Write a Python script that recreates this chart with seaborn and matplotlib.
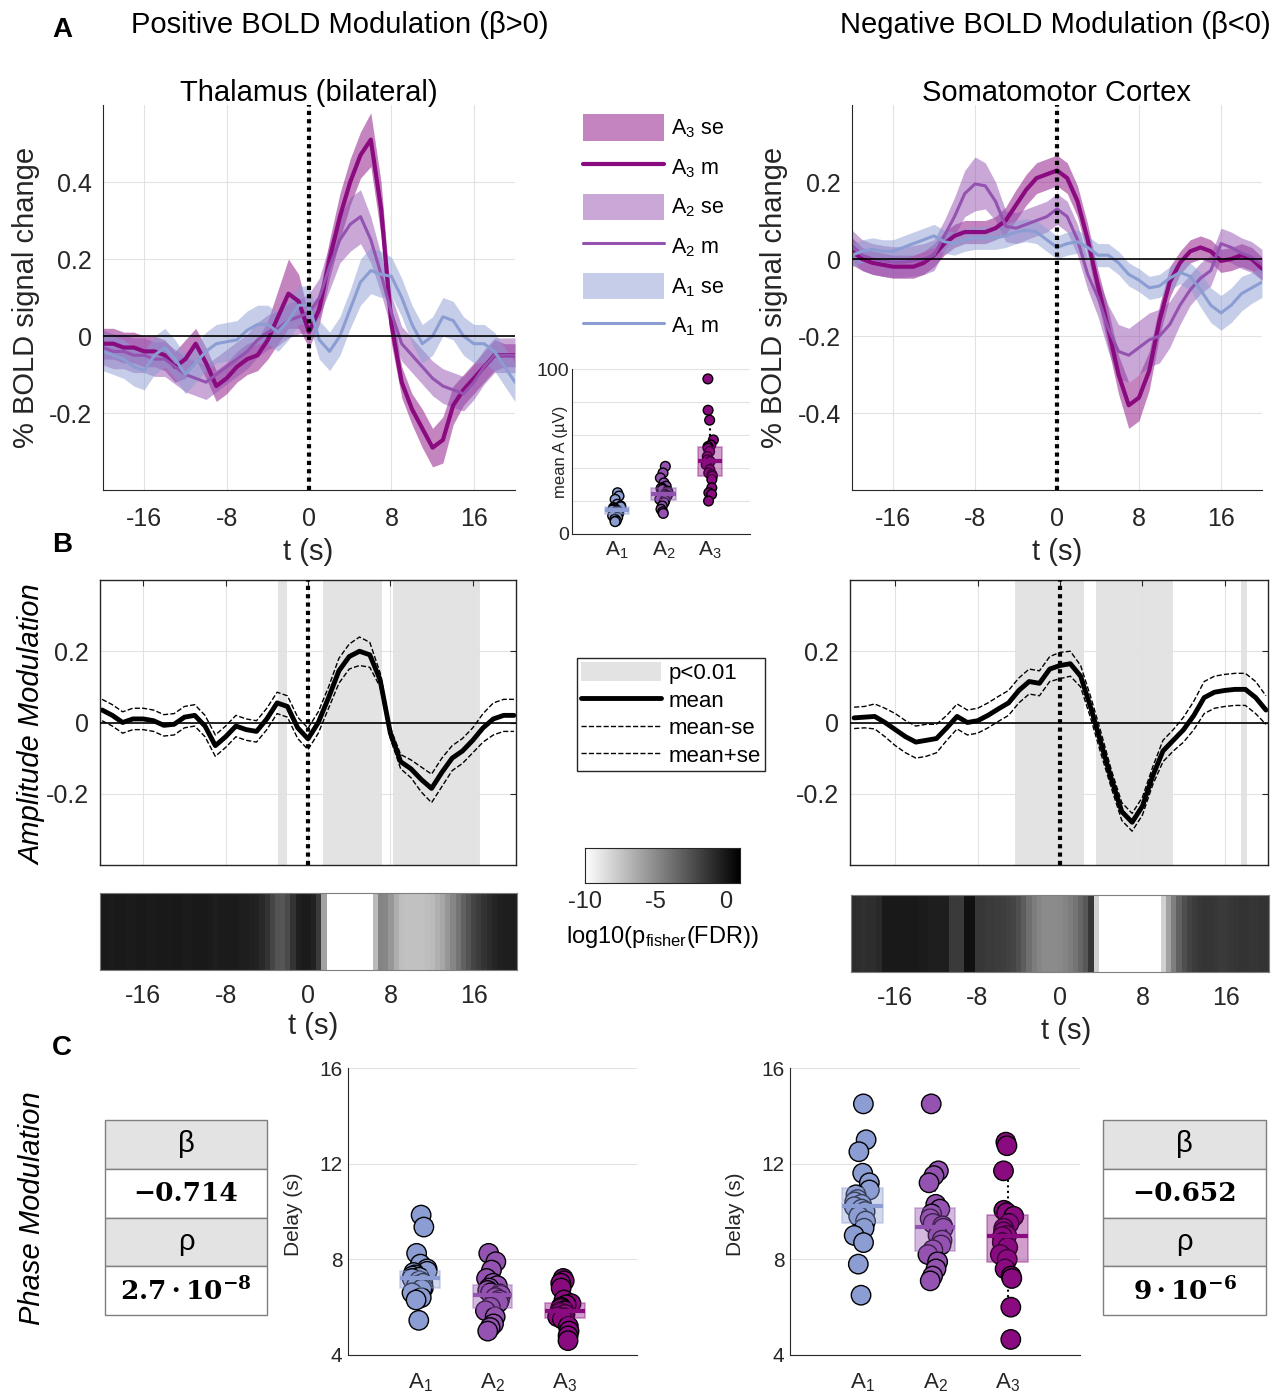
import numpy as np
import pandas as pd
import matplotlib
matplotlib.use("Agg")
import matplotlib.pyplot as plt
import seaborn as sns
from matplotlib.patches import Patch
from matplotlib.lines import Line2D

# ===== data =====
t = np.arange(-20, 21)  # time to event (s)
t_fine = np.arange(-20, 20.5, 0.5)  # time grid of the p-value strips (s)

# A: % BOLD signal change per amplitude tercile - thalamus (bilateral)
thal_a3_m = [-0.02, -0.02, -0.03, -0.03, -0.04, -0.04, -0.05, -0.08, -0.06, -0.02,
             -0.07, -0.13, -0.11, -0.08, -0.06, -0.05, -0.01, 0.05, 0.11, 0.09,
             0.01, 0.07, 0.20, 0.31, 0.40, 0.47, 0.51, 0.33, 0.03, -0.12,
             -0.19, -0.24, -0.29, -0.27, -0.18, -0.14, -0.11, -0.08, -0.05, -0.05, -0.05]
thal_a3_se = [0.04, 0.04, 0.04, 0.04, 0.04, 0.04, 0.04, 0.04, 0.05, 0.04,
              0.04, 0.04, 0.04, 0.04, 0.04, 0.04, 0.05, 0.07, 0.09, 0.07,
              0.04, 0.04, 0.05, 0.06, 0.06, 0.06, 0.07, 0.07, 0.05, 0.04,
              0.04, 0.05, 0.05, 0.06, 0.05, 0.04, 0.04, 0.04, 0.04, 0.03, 0.03]
thal_a2_m = [-0.03, -0.04, -0.04, -0.05, -0.05, -0.06, -0.06, -0.08, -0.10, -0.11,
             -0.12, -0.10, -0.08, -0.06, -0.04, -0.01, 0.01, 0.02, 0.04, 0.05,
             0.06, 0.10, 0.18, 0.25, 0.29, 0.31, 0.25, 0.16, 0.06, -0.02,
             -0.05, -0.08, -0.11, -0.13, -0.14, -0.15, -0.12, -0.08, -0.05, -0.05, -0.05]
thal_a2_se = [0.045, 0.045, 0.045, 0.045, 0.045, 0.045, 0.045, 0.045, 0.045, 0.045,
              0.045, 0.045, 0.045, 0.045, 0.045, 0.045, 0.045, 0.045, 0.045, 0.045,
              0.05, 0.05, 0.06, 0.06, 0.07, 0.07, 0.06, 0.05, 0.045, 0.045,
              0.045, 0.045, 0.045, 0.045, 0.045, 0.045, 0.045, 0.045, 0.045, 0.045, 0.045]
thal_a1_m = [-0.04, -0.05, -0.06, -0.08, -0.09, -0.05, -0.03, -0.06, -0.10, -0.07,
             -0.04, -0.02, -0.015, -0.01, 0.015, 0.03, 0.03, 0.01, 0.04, 0.08,
             0.08, -0.01, -0.04, 0.00, 0.07, 0.14, 0.17, 0.16, 0.155, 0.10,
             0.03, -0.02, 0.00, 0.05, 0.04, 0.00, -0.02, -0.02, -0.04, -0.08, -0.12]
thal_a1_se = [0.05, 0.05, 0.05, 0.05, 0.05, 0.05, 0.05, 0.05, 0.05, 0.05,
              0.05, 0.05, 0.05, 0.05, 0.05, 0.05, 0.05, 0.05, 0.05, 0.05,
              0.05, 0.05, 0.05, 0.05, 0.05, 0.06, 0.06, 0.06, 0.05, 0.05,
              0.05, 0.05, 0.05, 0.05, 0.05, 0.05, 0.05, 0.05, 0.05, 0.05, 0.05]

# A: somatomotor cortex
smc_a3_m = [0.02, 0.00, -0.01, -0.015, -0.02, -0.02, -0.02, -0.01, 0.01, 0.04,
            0.06, 0.07, 0.07, 0.07, 0.08, 0.10, 0.14, 0.18, 0.21, 0.22,
            0.23, 0.21, 0.15, 0.05, -0.07, -0.18, -0.30, -0.38, -0.36, -0.29,
            -0.16, -0.06, -0.01, 0.02, 0.03, 0.02, -0.005, 0.00, 0.01, 0.00, -0.025]
smc_a3_se = [0.035, 0.03, 0.03, 0.03, 0.03, 0.03, 0.03, 0.03, 0.03, 0.03,
             0.03, 0.03, 0.03, 0.03, 0.03, 0.035, 0.04, 0.04, 0.04, 0.04,
             0.04, 0.04, 0.04, 0.04, 0.04, 0.05, 0.05, 0.06, 0.06, 0.05,
             0.04, 0.04, 0.03, 0.03, 0.03, 0.03, 0.03, 0.03, 0.03, 0.03, 0.03]
smc_a2_m = [0.035, 0.01, 0.0, -0.005, -0.008, -0.008, -0.005, 0.0, 0.01, 0.06,
            0.11, 0.17, 0.195, 0.19, 0.15, 0.085, 0.08, 0.09, 0.10, 0.11,
            0.13, 0.11, 0.05, -0.04, -0.10, -0.18, -0.24, -0.25, -0.23, -0.21,
            -0.20, -0.17, -0.12, -0.08, -0.05, -0.03, 0.04, 0.03, 0.015, 0.005, -0.015]
smc_a2_se = [0.04, 0.04, 0.04, 0.04, 0.04, 0.04, 0.04, 0.04, 0.04, 0.04,
             0.05, 0.06, 0.07, 0.06, 0.05, 0.04, 0.04, 0.04, 0.04, 0.04,
             0.04, 0.04, 0.04, 0.04, 0.05, 0.06, 0.07, 0.07, 0.07, 0.07,
             0.07, 0.06, 0.05, 0.04, 0.04, 0.04, 0.04, 0.04, 0.04, 0.04, 0.04]
smc_a1_m = [0.01, 0.02, 0.025, 0.02, 0.02, 0.03, 0.04, 0.05, 0.06, 0.045,
            0.04, 0.05, 0.055, 0.055, 0.055, 0.06, 0.07, 0.075, 0.07, 0.05,
            0.03, 0.04, 0.045, 0.03, 0.01, 0.01, -0.01, -0.04, -0.055, -0.075,
            -0.07, -0.05, -0.035, -0.045, -0.08, -0.12, -0.14, -0.12, -0.09, -0.075, -0.06]
smc_a1_se = [0.03, 0.03, 0.03, 0.03, 0.03, 0.03, 0.03, 0.03, 0.03, 0.03,
             0.03, 0.03, 0.03, 0.03, 0.03, 0.03, 0.03, 0.03, 0.03, 0.03,
             0.03, 0.03, 0.03, 0.03, 0.03, 0.03, 0.03, 0.03, 0.03, 0.03,
             0.03, 0.03, 0.03, 0.035, 0.045, 0.045, 0.045, 0.045, 0.045, 0.04, 0.04]

# inset: mean amplitude per tercile (uV)
amp_a1 = [25, 23, 21, 18, 17, 16.5, 16, 15.5, 15, 14.5, 14.5, 14, 13.5, 13, 12.5, 12, 11, 10, 9, 8, 7.5]
amp_a2 = [41, 37, 34, 31, 29, 28, 27.5, 27, 26, 25, 24, 23.5, 23, 22, 21, 20.5, 19, 17, 15, 13.5, 12.5]
amp_a3 = [94, 75, 69, 57, 54, 53, 52, 50, 47, 45, 44, 42, 39, 37, 36, 35, 33, 28, 25, 24, 20]

# B: amplitude modulation
thal_amp_m = [0.035, 0.02, 0.0, 0.01, 0.01, 0.005, -0.008, -0.005, 0.015, 0.02,
              -0.01, -0.065, -0.04, -0.01, -0.02, -0.025, 0.01, 0.055, 0.045, -0.015,
              -0.046, 0.0, 0.07, 0.145, 0.185, 0.20, 0.19, 0.12, -0.03, -0.11,
              -0.13, -0.16, -0.185, -0.14, -0.10, -0.08, -0.05, -0.015, 0.01, 0.02, 0.02]
thal_amp_se = [0.03, 0.03, 0.03, 0.03, 0.03, 0.03, 0.03, 0.03, 0.03, 0.03,
               0.03, 0.03, 0.03, 0.03, 0.03, 0.03, 0.03, 0.03, 0.03, 0.03,
               0.03, 0.03, 0.03, 0.035, 0.035, 0.04, 0.035, 0.02, 0.015, 0.02,
               0.025, 0.035, 0.04, 0.04, 0.035, 0.035, 0.035, 0.04, 0.045, 0.045, 0.045]
smc_amp_m = [0.013, 0.015, 0.017, 0.0, -0.02, -0.04, -0.055, -0.05, -0.045, -0.015,
             0.017, 0.0, 0.005, 0.02, 0.038, 0.055, 0.09, 0.115, 0.11, 0.15,
             0.16, 0.165, 0.13, 0.04, -0.06, -0.16, -0.25, -0.28, -0.235, -0.15,
             -0.08, -0.05, -0.02, 0.02, 0.07, 0.085, 0.09, 0.093, 0.093, 0.07, 0.035]
smc_amp_se = [0.03, 0.03, 0.035, 0.04, 0.045, 0.045, 0.045, 0.045, 0.04, 0.035,
              0.035, 0.035, 0.035, 0.035, 0.035, 0.035, 0.035, 0.035, 0.035, 0.035,
              0.037, 0.035, 0.03, 0.03, 0.03, 0.025, 0.025, 0.025, 0.025, 0.025,
              0.03, 0.03, 0.035, 0.04, 0.045, 0.045, 0.045, 0.045, 0.045, 0.045, 0.04]
thal_sig = [(-2.9, -2.0), (1.5, 7.2), (8.3, 16.7)]   # p<0.01 windows (s)
smc_sig = [(-4.4, 2.3), (3.5, 11.0), (17.6, 18.2)]

# log10(p_fisher(FDR)) strips, 0.5 s steps
thal_logp = [-0.1, -0.15, -0.2, -0.1, -0.1, -0.2, -0.2, -0.1, -0.1, -0.2,
             -0.2, -0.1, -0.1, -0.15, -0.1, -0.1, -0.2, -0.2, -0.1, -0.1,
             -0.1, -0.2, -0.3, -0.2, -0.2, -0.2, -0.2, -0.3, -0.3, -0.4,
             -0.5, -0.8, -1.2, -2.0, -2.6, -2.7, -2.2, -1.2, -0.4, -0.2,
             -0.2, -0.5, -1.5, -6.0, -11, -11, -11, -11, -11, -11,
             -11, -11, -10.5, -7.0, -4.7, -4.8, -5.5, -6.5, -7.2, -7.3,
             -7.3, -7.3, -7.3, -7.2, -7.0, -6.6, -6.2, -5.5, -4.8, -4.0,
             -3.2, -2.6, -2.0, -1.6, -1.2, -0.9, -0.6, -0.4, -0.3, -0.3,
             -0.3]
smc_logp = [-0.9, -1.0, -1.1, -1.0, -1.0, -0.8, -0.1, -0.1, -0.1, -0.1,
            -0.1, -0.1, -0.1, -0.2, -0.2, -0.3, -0.3, -0.3, -0.3, -1.5,
            -1.5, -1.5, 0.3, 0.3, -1.4, -1.4, -1.5, -1.5, -1.6, -1.7,
            -1.8, -2.0, -2.4, -3.0, -3.8, -4.4, -4.8, -5.0, -5.0, -5.0,
            -4.9, -4.7, -4.4, -4.0, -3.4, -2.8, -1.4, -8.0, -11, -11,
            -11, -11, -11, -11, -11, -11, -11, -11, -11, -10.0,
            -8.0, -6.0, -4.5, -3.2, -2.4, -1.9, -1.6, -1.4, -1.3, -1.3,
            -1.4, -1.5, -1.5, -1.4, -1.3, -1.2, -1.2, -1.3, -1.3, -1.2,
            -1.2]

# C: phase modulation, delay (s)
thal_d1 = [9.85, 9.35, 8.25, 7.8, 7.6, 7.5, 7.45, 7.35, 7.3, 7.25, 7.2, 7.1, 7.0, 6.9, 6.8, 6.75, 6.6, 6.4, 6.3, 5.45]
thal_d2 = [8.25, 7.9, 7.55, 7.2, 7.0, 6.9, 6.8, 6.7, 6.6, 6.55, 6.5, 6.4, 6.3, 6.2, 6.0, 5.85, 5.6, 5.3, 5.15, 5.0]
thal_d3 = [7.2, 7.1, 7.0, 6.8, 6.3, 6.15, 6.1, 6.0, 5.95, 5.85, 5.8, 5.75, 5.7, 5.6, 5.55, 5.5, 5.2, 5.0, 4.8, 4.6]
smc_d1 = [14.5, 13.0, 12.5, 11.6, 11.2, 10.9, 10.7, 10.5, 10.4, 10.3, 10.2, 10.1, 10.0, 9.8, 9.6, 9.3, 9.0, 8.7, 7.8, 6.5]
smc_d2 = [14.5, 11.7, 11.5, 11.2, 10.3, 10.1, 9.9, 9.7, 9.5, 9.4, 9.3, 9.0, 8.8, 8.6, 8.4, 8.2, 7.9, 7.6, 7.3, 7.1]
smc_d3 = [12.9, 12.75, 11.7, 10.05, 9.95, 9.8, 9.5, 9.3, 9.15, 9.0, 8.95, 8.7, 8.5, 8.2, 8.0, 7.6, 7.3, 7.2, 6.0, 4.65]
thal_beta, thal_p = "−0.714", r"$\mathbf{2.7\cdot10^{-8}}$"
smc_beta, smc_p = "−0.652", r"$\mathbf{9\cdot10^{-6}}$"

groups = ["A1", "A2", "A3"]
group_labels = [r"$\mathregular{A_1}$", r"$\mathregular{A_2}$", r"$\mathregular{A_3}$"]
c1, c2, c3 = "#8c9dd3", "#9452b1", "#8a0a80"
pal = {"A1": c1, "A2": c2, "A3": c3}

# ===== style =====
sns.set_style("whitegrid", {"grid.color": "#e2e2e2", "axes.edgecolor": "#262626",
                            "xtick.direction": "in", "ytick.direction": "in"})
plt.rcParams["font.family"] = ["Liberation Sans", "DejaVu Sans"]
plt.rcParams["mathtext.fontset"] = "custom"
plt.rcParams["mathtext.rm"] = "Liberation Sans"
plt.rcParams["mathtext.it"] = "Liberation Sans:italic"
plt.rcParams["mathtext.bf"] = "DejaVu Serif:bold"
plt.rcParams["axes.unicode_minus"] = False
plt.rcParams["text.color"] = "black"
plt.rcParams["xtick.color"] = "#262626"
plt.rcParams["ytick.color"] = "#262626"

W, H = 1275, 1399
fig = plt.figure(figsize=(W / 100, H / 100), dpi=100)


def axbox(x0, y0, x1, y1):
    return [x0 / W, 1 - y1 / H, (x1 - x0) / W, (y1 - y0) / H]


def ftext(x, y, s, **kw):
    fig.text(x / W, 1 - y / H, s, **kw)


TICK = 18
dotted = dict(color="black", lw=3, ls=(0, (1, 1)), zorder=5)


def bold_panel(ax, series, ylim, yticks, title):
    for m, se, col, lw in series:
        m, se = np.array(m), np.array(se)
        ax.fill_between(t, m - se, m + se, color=col, alpha=0.5, lw=0)
        sns.lineplot(x=t, y=m, color=col, lw=lw, ax=ax)
    ax.axhline(0, color="black", lw=1.2, zorder=4)
    ax.axvline(0, **dotted)
    ax.set_xlim(-20, 20)
    ax.set_ylim(*ylim)
    ax.set_xticks([-16, -8, 0, 8, 16])
    ax.set_xticklabels(["-16", "-8", "0", "8", "16"])
    ax.set_yticks(yticks)
    ax.set_yticklabels([f"{v:g}" for v in yticks])
    ax.tick_params(labelsize=TICK, length=4, pad=8)
    ax.tick_params(axis="x", pad=12)
    ax.set_title(title, fontsize=21, pad=3)
    ax.set_ylabel("% BOLD signal change", fontsize=21)
    ax.set_xlabel("t (s)", fontsize=21, va="top")
    sns.despine(ax=ax)


ax_a1 = fig.add_axes(axbox(103, 105, 515, 490))
bold_panel(ax_a1, [(thal_a3_m, thal_a3_se, c3, 3), (thal_a2_m, thal_a2_se, c2, 2.2),
                   (thal_a1_m, thal_a1_se, c1, 2.2)],
           (-0.4, 0.6), [-0.2, 0, 0.2, 0.4], "Thalamus (bilateral)")
ax_a1.yaxis.set_label_coords(-0.153, 0.5)
ax_a1.xaxis.set_label_coords(0.4976, -0.125)

ax_a2 = fig.add_axes(axbox(852, 105, 1262, 490))
bold_panel(ax_a2, [(smc_a3_m, smc_a3_se, c3, 3), (smc_a2_m, smc_a2_se, c2, 2.2),
                   (smc_a1_m, smc_a1_se, c1, 2.2)],
           (-0.6, 0.4), [-0.4, -0.2, 0, 0.2], "Somatomotor Cortex")
ax_a2.yaxis.set_label_coords(-0.156, 0.5)
ax_a2.xaxis.set_label_coords(0.5, -0.125)

# legend of panel A
handles = [Patch(facecolor=c3, alpha=0.5, lw=0), Line2D([], [], color=c3, lw=3),
           Patch(facecolor=c2, alpha=0.5, lw=0), Line2D([], [], color=c2, lw=2.2),
           Patch(facecolor=c1, alpha=0.5, lw=0), Line2D([], [], color=c1, lw=2.2)]
labels = [group_labels[2] + " se", group_labels[2] + " m", group_labels[1] + " se",
          group_labels[1] + " m", group_labels[0] + " se", group_labels[0] + " m"]
fig.legend(handles, labels, loc="upper left", bbox_to_anchor=(564 / W, 1 - 95 / H),
           frameon=False, fontsize=15.5, handlelength=3.75, handleheight=1.5,
           labelspacing=0.62, handletextpad=0.3)


def box_strip(ax, values, size, jitter, width):
    df = pd.DataFrame({"group": np.repeat(groups, [len(v) for v in values]),
                       "val": np.concatenate(values)})
    np.random.seed(3)
    sns.stripplot(data=df, x="group", y="val", hue="group", palette=pal, order=groups,
                  hue_order=groups, size=size, edgecolor="black", linewidth=1,
                  jitter=jitter, legend=False, ax=ax, zorder=2)
    for g in groups:
        sns.boxplot(data=df[df.group == g], x="group", y="val", order=groups,
                    color=pal[g], linecolor=pal[g], saturation=1, width=width,
                    linewidth=1.2, showcaps=False, showfliers=False,
                    boxprops=dict(alpha=0.4, zorder=3),
                    medianprops=dict(linewidth=3, alpha=1, zorder=4),
                    whiskerprops=dict(linestyle=":", color="black", linewidth=1.5, zorder=1),
                    ax=ax)
    ax.set_xlabel("")
    ax.set_xticks([0, 1, 2])
    ax.set_xticklabels(group_labels)
    sns.despine(ax=ax)


# inset: mean amplitude
ax_in = fig.add_axes(axbox(572, 369, 750, 534))
box_strip(ax_in, [amp_a1, amp_a2, amp_a3], 7, 0.1, 0.52)
ax_in.set_xlim(-0.97, 2.86)
ax_in.set_ylim(0, 100)
ax_in.set_yticks([0, 20, 40, 60, 80, 100])
ax_in.set_yticklabels(["0", "", "", "", "", "100"])
ax_in.tick_params(axis="y", labelsize=14, length=0, pad=2)
ax_in.tick_params(axis="x", labelsize=15, length=0, pad=4)
ax_in.set_ylabel("mean A (µV)", fontsize=12)
ax_in.yaxis.set_label_coords(-0.025, 0.5)


def amp_panel(ax, m, se, sig, xlim):
    for a, b in sig:
        ax.axvspan(a, b, color="#e3e3e3", lw=0, zorder=0.2)
    m, se = np.array(m), np.array(se)
    sns.lineplot(x=t, y=m - se, color="black", lw=1, ls="--", ax=ax)
    sns.lineplot(x=t, y=m + se, color="black", lw=1, ls="--", ax=ax)
    sns.lineplot(x=t, y=m, color="black", lw=3.5, ax=ax)
    ax.axhline(0, color="black", lw=1.2, zorder=4)
    ax.axvline(0, **dotted)
    ax.set_xlim(*xlim)
    ax.set_ylim(-0.4, 0.4)
    ax.set_xticks([-16, -8, 0, 8, 16])
    ax.set_xticklabels([])
    ax.set_yticks([-0.2, 0, 0.2])
    ax.set_yticklabels(["-0.2", "0", "0.2"])
    ax.tick_params(labelsize=TICK, length=4, pad=8, top=True, right=True)
    for s in ax.spines.values():
        s.set_linewidth(1)


ax_b1 = fig.add_axes(axbox(100, 580, 516, 865))
amp_panel(ax_b1, thal_amp_m, thal_amp_se, thal_sig, (-20.2, 20.2))
ax_b2 = fig.add_axes(axbox(850, 580, 1268, 865))
amp_panel(ax_b2, smc_amp_m, smc_amp_se, smc_sig, (-20.4, 20.2))

fig.legend([Patch(facecolor="#e3e3e3", lw=0), Line2D([], [], color="black", lw=3.5),
            Line2D([], [], color="black", lw=1, ls="--"),
            Line2D([], [], color="black", lw=1, ls="--")],
           ["p<0.01", "mean", "mean-se", "mean+se"],
           loc="upper left", bbox_to_anchor=(577 / W, 1 - 658 / H), fontsize=16,
           frameon=True, fancybox=False, edgecolor="#262626", framealpha=1,
           handlelength=3.6, handleheight=0.9, labelspacing=0.25, handletextpad=0.3,
           borderpad=0.2, borderaxespad=0)

# p-value strips
cax = fig.add_axes(axbox(585, 848, 740, 883))


def strip(ax, logp, with_cbar, label_x, label_y):
    sns.heatmap(np.array([logp]), cmap="gray_r", vmin=-10, vmax=1, ax=ax,
                cbar=with_cbar, cbar_ax=cax if with_cbar else None,
                cbar_kws=dict(orientation="horizontal", ticks=[-10, -5, 0]),
                xticklabels=False, yticklabels=False)
    ax.grid(False)
    # cell i is centred on t_fine[i]
    ax.set_xlim((-20.2 - t_fine[0]) * 2 + 0.5, (20.2 - t_fine[0]) * 2 + 0.5)
    ticks = np.array([-16, -8, 0, 8, 16])
    ax.set_xticks((ticks - t_fine[0]) * 2 + 0.5)
    ax.set_xticklabels([str(v) for v in ticks])
    ax.tick_params(axis="x", labelsize=TICK, length=4, pad=10, bottom=True)
    for s in ax.spines.values():
        s.set_visible(True)
        s.set_color("#7f7f7f")
    ax.set_xlabel("t (s)", fontsize=21, va="top")
    ax.xaxis.set_label_coords(label_x, label_y)


ax_h1 = fig.add_axes(axbox(100, 893, 517, 970))
strip(ax_h1, thal_logp, True, 0.511, -0.55)
ax_h2 = fig.add_axes(axbox(851, 895, 1269, 972))
strip(ax_h2, smc_logp, False, 0.514, -0.59)

cax.tick_params(labelsize=17, length=3, pad=6, direction="in", bottom=True)
cax.set_xticklabels(["-10", "-5", "0"])
for s in cax.spines.values():
    s.set_visible(True)
    s.set_color("#262626")
ftext(662, 937, r"log10(p$_{\mathregular{fisher}}$(FDR))", fontsize=17, ha="center", va="center")

# C: phase modulation
ax_c1 = fig.add_axes(axbox(348, 1068, 637, 1355))
box_strip(ax_c1, [thal_d1, thal_d2, thal_d3], 14, 0.12, 0.55)
ax_c2 = fig.add_axes(axbox(790, 1068, 1080, 1355))
box_strip(ax_c2, [smc_d1, smc_d2, smc_d3], 14, 0.12, 0.56)
for ax in (ax_c1, ax_c2):
    ax.set_xlim(-1, 3)
    ax.set_ylim(4, 16)
    ax.set_yticks([4, 8, 12, 16])
    ax.tick_params(axis="y", labelsize=15, length=0, pad=4)
    ax.tick_params(axis="x", labelsize=16, length=0, pad=12)
    ax.set_ylabel("Delay (s)", fontsize=15)
    ax.yaxis.set_label_coords(-0.155, 0.49)


def stat_table(box, beta, p):
    ax = fig.add_axes(axbox(*box))
    ax.axis("off")
    tb = ax.table(cellText=[["β"], [beta], ["ρ"], [p]],
                  cellColours=[["#e3e3e3"], ["white"], ["#e3e3e3"], ["white"]],
                  cellLoc="center", bbox=[0, 0, 1, 1])
    tb.auto_set_font_size(False)
    for (r, c), cell in tb.get_celld().items():
        cell.set_edgecolor("#7f7f7f")
        txt = cell.get_text()
        if r % 2 == 0:
            txt.set_fontsize(21)
        else:
            txt.set_fontsize(19)
            txt.set_fontfamily("DejaVu Serif")
            txt.set_fontweight("bold")


stat_table((105, 1120, 267, 1315), thal_beta, thal_p)
stat_table((1103, 1120, 1266, 1315), smc_beta, smc_p)

# headings and panel letters
ftext(62, 30, "A", fontsize=20, fontweight="bold", ha="center", va="center")
ftext(62, 545, "B", fontsize=20, fontweight="bold", ha="center", va="center")
ftext(62, 1048, "C", fontsize=20, fontweight="bold", ha="center", va="center")
ftext(340, 25, "Positive BOLD Modulation (β>0)", fontsize=21, ha="center", va="center")
ftext(1271, 25, "Negative BOLD Modulation (β<0)", fontsize=21, ha="right", va="center")
ftext(32, 725, "Amplitude Modulation", fontsize=21, style="italic", rotation=90,
      ha="center", va="center")
ftext(32, 1208, "Phase Modulation", fontsize=21, style="italic", rotation=90,
      ha="center", va="center")

fig.savefig("out.png", dpi=100)
